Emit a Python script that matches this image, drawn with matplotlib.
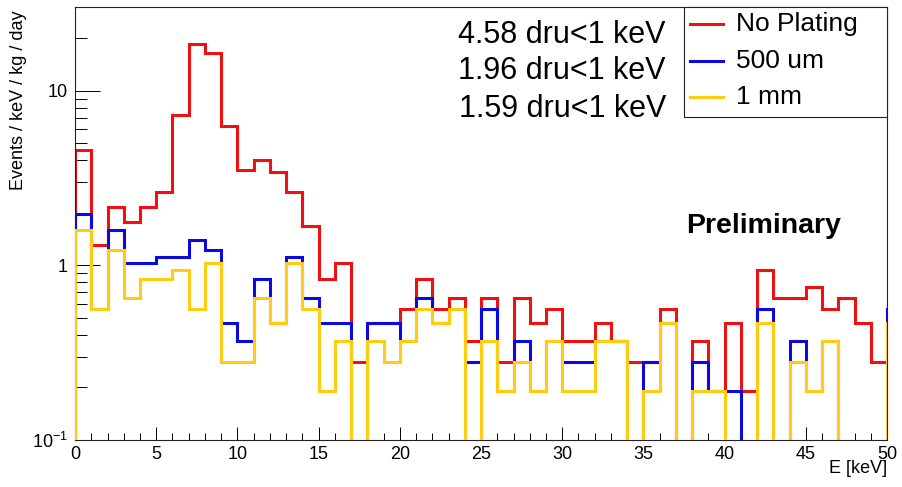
import numpy as np
import matplotlib
matplotlib.use("Agg")
import matplotlib.pyplot as plt
from matplotlib.ticker import FixedLocator, NullFormatter
from matplotlib.lines import Line2D
from matplotlib.patches import Rectangle

plt.rcParams['font.family'] = ['Liberation Sans', 'DejaVu Sans']
plt.rcParams['mathtext.fontset'] = 'custom'
plt.rcParams['mathtext.rm'] = 'Liberation Sans'
plt.rcParams['mathtext.it'] = 'Liberation Sans:italic'
plt.rcParams['mathtext.bf'] = 'Liberation Sans:bold'

# 1 keV bins, 0..51 keV (last bin lies beyond the 50 keV axis end)
bin_edges = np.arange(0, 52, 1)

no_plating = [4.58, 1.31, 2.15, 1.78, 2.15, 2.62, 7.26, 18.6, 16.4, 6.30,
              3.51, 3.99, 3.42, 2.62, 1.68, 0.84, 1.03, 0.28, 0.47, 0.47,
              0.56, 0.84, 0.56, 0.65, 0.37, 0.65, 0.28, 0.65, 0.47, 0.56,
              0.37, 0.37, 0.47, 0.37, 0.28, 0.28, 0.56, 0.0, 0.37, 0.19,
              0.47, 0.19, 0.94, 0.65, 0.65, 0.75, 0.56, 0.65, 0.47, 0.28,
              0.56]
um500 = [1.96, 0.56, 1.59, 1.03, 1.03, 1.12, 1.12, 1.40, 1.22, 0.47,
         0.37, 0.84, 0.47, 1.12, 0.65, 0.47, 0.47, 0.0, 0.47, 0.47,
         0.37, 0.65, 0.47, 0.56, 0.28, 0.56, 0.19, 0.37, 0.19, 0.37,
         0.28, 0.28, 0.37, 0.37, 0.0, 0.28, 0.47, 0.0, 0.28, 0.19,
         0.19, 0.0, 0.56, 0.0, 0.37, 0.19, 0.37, 0.0, 0.0, 0.0,
         0.56]
mm1 = [1.59, 0.56, 1.22, 0.65, 0.84, 0.84, 0.94, 0.56, 1.03, 0.28,
       0.28, 0.65, 0.47, 1.03, 0.56, 0.19, 0.37, 0.0, 0.37, 0.28,
       0.37, 0.56, 0.47, 0.56, 0.0, 0.37, 0.19, 0.28, 0.19, 0.37,
       0.19, 0.19, 0.37, 0.37, 0.0, 0.19, 0.47, 0.0, 0.19, 0.19,
       0.0, 0.0, 0.47, 0.0, 0.28, 0.19, 0.37, 0.0, 0.0, 0.0,
       0.47]

series_labels = ["No Plating", "500 um", "1 mm"]
series_colors = ["#ee1111", "#0a0ae0", "#ffcc11"]
dru_texts = ["4.58 dru<1 keV", "1.96 dru<1 keV", "1.59 dru<1 keV"]

fig = plt.figure(figsize=(9.03, 4.87), dpi=100)
ax = fig.add_axes([0.0831, 0.0965, 0.8992, 0.8885])

floor = 0.01
for i, (vals, col) in enumerate(zip([no_plating, um500, mm1], series_colors)):
    v = np.clip(np.asarray(vals, dtype=float), floor, None)
    ax.stairs(v, bin_edges, baseline=floor, color=col, linewidth=2.2,
              zorder=2 + i)

ax.set_yscale('log')
ax.set_xlim(0, 50)
ax.set_ylim(0.1, 30)

# ticks
ax.xaxis.set_major_locator(FixedLocator(np.arange(0, 51, 5)))
ax.xaxis.set_minor_locator(FixedLocator(np.arange(0, 51, 1)))
ax.set_xticklabels([str(t) for t in range(0, 51, 5)])
ax.yaxis.set_major_locator(FixedLocator([0.1, 1, 10]))
ax.set_yticklabels(['10$^{-1}$', '1', '10'])
minors = [m * d for d in (0.1, 1, 10) for m in range(2, 10)]
ax.yaxis.set_minor_locator(FixedLocator([m for m in minors if m <= 30]))
ax.yaxis.set_minor_formatter(NullFormatter())

ax.tick_params(axis='x', which='major', direction='in', length=9.4, width=0.7,
               labelsize=13, pad=4, top=False)
ax.tick_params(axis='x', which='minor', direction='in', length=4.7, width=0.7,
               top=False)
ax.tick_params(axis='y', which='major', direction='in', length=18, width=0.7,
               labelsize=13, pad=5, right=False)
ax.tick_params(axis='y', which='minor', direction='in', length=8.6, width=0.7,
               right=False)
for s in ax.spines.values():
    s.set_linewidth(0.8)
    s.set_color('#222222')

# axis titles (ROOT style: at axis ends)
fig.text(0.02, 0.979, "Events / keV / kg / day", rotation=90, ha='center',
         va='top', fontsize=13)
ax.text(1.0, -0.047, "E [keV]", transform=ax.transAxes, ha='right',
        va='top', fontsize=13)

# dru annotations
for txt, yy in zip(dru_texts, [0.936, 0.852, 0.766]):
    ax.text(0.7278, yy, txt, transform=ax.transAxes, ha='right', va='center',
            fontsize=22, zorder=6)

ax.text(0.753, 0.478, "Preliminary", transform=ax.transAxes, ha='left',
        va='baseline', fontsize=20.5, fontweight='bold', zorder=6)

# legend box
ax.add_patch(Rectangle((0.75, 0.7473), 0.25, 0.2527, transform=ax.transAxes,
                       facecolor='white', edgecolor='#222222', linewidth=0.8,
                       zorder=7, clip_on=False))
for lab, col, yy in zip(series_labels, series_colors, [0.9607, 0.8759, 0.792]):
    ax.add_line(Line2D([0.7574, 0.7977], [yy, yy], transform=ax.transAxes,
                       color=col, linewidth=2.2, zorder=8, clip_on=False))
    ax.text(0.814, yy, lab, transform=ax.transAxes, ha='left', va='center',
            fontsize=19, zorder=8)

fig.savefig("out.png", dpi=100)
